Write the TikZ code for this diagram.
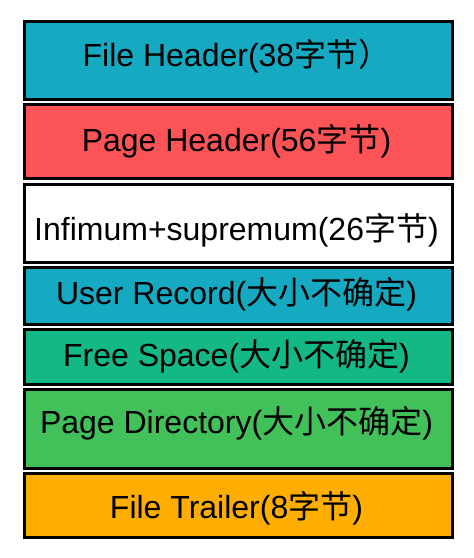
\documentclass[tikz,border=0pt]{standalone}
\usepackage{fontspec}
\setmainfont{Liberation Sans}
\newfontfamily\cjk{Noto Sans CJK SC}
\usepackage{xcolor}
\usetikzlibrary{positioning}
\definecolor{tealC}{HTML}{15A9C2}
\definecolor{redC}{HTML}{FC5456}
\definecolor{mintC}{HTML}{13B886}
\definecolor{greenC}{HTML}{42C05A}
\definecolor{amberC}{HTML}{FDAE00}
\tikzset{
  seg/.style={draw=black, line width=3pt, minimum width=428pt, inner sep=0pt, anchor=north west},
  tealseg/.style={seg, fill=tealC},
  redseg/.style={seg, fill=redC},
  whiteseg/.style={seg, fill=white},
  mintseg/.style={seg, fill=mintC},
  greenseg/.style={seg, fill=greenC},
  amberseg/.style={seg, fill=amberC},
  segtext/.style={font=\fontsize{32}{34}\selectfont, text=black, anchor=base, inner sep=0pt}
}

\begin{document}
\begin{tikzpicture}[x=1pt,y=1pt]
\useasboundingbox[fill=white] (0,0) rectangle (474,558);

% page layout, top to bottom
\node[tealseg, minimum height=78pt] (fhead) at (22.5,537.5) {};
\node[redseg, minimum height=74pt] (phead) at (22.5,454.5) {};
\node[whiteseg, minimum height=78pt] (infsup) at (22.5,374.5) {};
\node[tealseg, minimum height=57pt] (urec) at (22.5,291.5) {};
\node[mintseg, minimum height=55pt] (free) at (22.5,229.5) {};
\node[greenseg, minimum height=79pt] (pdir) at (22.5,169.5) {};
\node[amberseg, minimum height=64pt] (ftrail) at (22.5,85.5) {};

% labels
\node[segtext] (fheadtxt) at (236.5,491) {File Header(38{\cjk 字节）}};
\node[segtext] (pheadtxt) at (236.5,406) {Page Header(56{\cjk 字节})};
\node[segtext] (infsuptxt) at (236.5,317) {Infimum+supremum(26{\cjk 字节})};
\node[segtext] (urectxt) at (236.5,253) {User Record({\cjk 大小不确定})};
\node[segtext] (freetxt) at (236.5,191) {Free Space({\cjk 大小不确定})};
\node[segtext] (pdirtxt) at (236.5,124) {Page Directory({\cjk 大小不确定})};
\node[segtext] (ftrailtxt) at (236.5,39) {File Trailer(8{\cjk 字节})};

\end{tikzpicture}
\end{document}
